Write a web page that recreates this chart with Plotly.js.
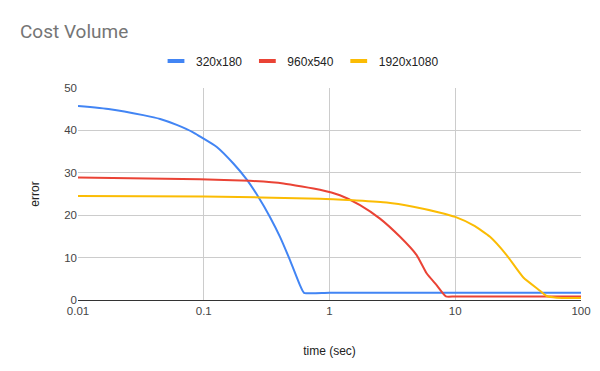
<!DOCTYPE html>
<html><head><meta charset="utf-8">
<script src="https://cdn.plot.ly/plotly-3.0.1.min.js"></script>
<style>body{margin:0;background:#fff}#c{width:600px;height:371px}</style>
</head><body><div id="c"></div>
<script>
const seriesNames = ["320x180", "960x540", "1920x1080"];
const blueT = [0.01, 0.018, 0.033, 0.045, 0.061, 0.083, 0.093, 0.127, 0.172, 0.220, 0.272, 0.336, 0.404, 0.485, 0.582, 0.627, 1, 10, 100];
const blueV = [45.75, 45.0, 43.6, 42.7, 41.3, 39.5, 38.6, 36.1, 32.2, 28.4, 24.3, 19.6, 14.9, 9.4, 3.5, 1.7, 1.7, 1.7, 1.7];
const redT = [0.01, 0.093, 0.233, 0.43, 0.84, 1.21, 1.75, 2.52, 3.64, 4.93, 5.92, 7.11, 8.43, 10, 100];
const redV = [28.9, 28.5, 28.1, 27.5, 26.0, 24.7, 22.4, 19.2, 14.9, 10.6, 6.3, 3.5, 0.85, 0.85, 0.85];
const yelT = [0.01, 0.1, 0.84, 1.55, 2.85, 4.64, 7.6, 10, 13.97, 18.9, 25.6, 34.8, 47.2, 53.3, 64, 100];
const yelV = [24.5, 24.4, 23.9, 23.5, 23.0, 22.0, 20.6, 19.6, 17.6, 14.9, 10.6, 5.3, 2.2, 0.94, 0.55, 0.5];
const xTicks = [0.01, 0.1, 1, 10, 100];
const xTickText = ["0.01", "0.1", "1", "10", "100"];
const colors = ["#4285F4", "#EA4335", "#FBBC04"];

const series = [[blueT, blueV], [redT, redV], [yelT, yelV]];
const data = series.map((s, i) => ({
  x: s[0], y: s[1], name: seriesNames[i], type: "scatter", mode: "lines",
  line: {color: colors[i], width: 2, shape: "spline", smoothing: 0.5}, showlegend: false
}));
// legend entries drawn as short thick bars
seriesNames.forEach((n, i) => data.push({
  x: [null], y: [null], name: n, type: "scatter", mode: "markers",
  marker: {symbol: "line-ew", size: 12, line: {color: colors[i], width: 4}}
}));

const layout = {
  width: 600, height: 371,
  margin: {l: 78, r: 19, t: 88, b: 71},
  paper_bgcolor: "#fff", plot_bgcolor: "#fff",
  font: {family: "'Liberation Sans', Arial, sans-serif", size: 12, color: "#222"},
  title: {text: "Cost Volume", xref: "container", yref: "container", x: 20/600, xanchor: "left",
    y: 1 - 31/371, yanchor: "middle", font: {family: "Roboto, Arial, sans-serif", size: 19, color: "#757575"}},
  showlegend: true,
  legend: {orientation: "h", xref: "container", yref: "container", x: 0.5, xanchor: "center",
    y: 1 - 61/371, yanchor: "middle", font: {size: 12, color: "#222"}, itemwidth: 30},
  xaxis: {type: "log", range: [-2, 2], tickvals: xTicks, ticktext: xTickText,
    showgrid: true, gridcolor: "#cccccc", zeroline: false, showline: true, linecolor: "#333", linewidth: 1,
    tickfont: {size: 11.5, color: "#444"}, ticks: "",
    title: {text: "time (sec)", font: {size: 12, color: "#222"}, standoff: 30}},
  yaxis: {range: [0, 50], dtick: 10, showgrid: true, gridcolor: "#cccccc", zeroline: false,
    tickfont: {size: 11.5, color: "#444"}, ticks: "",
    title: {text: "error", font: {size: 12, color: "#222"}, standoff: 22}}
};
Plotly.newPlot("c", data, layout, {staticPlot: true});
</script></body></html>
